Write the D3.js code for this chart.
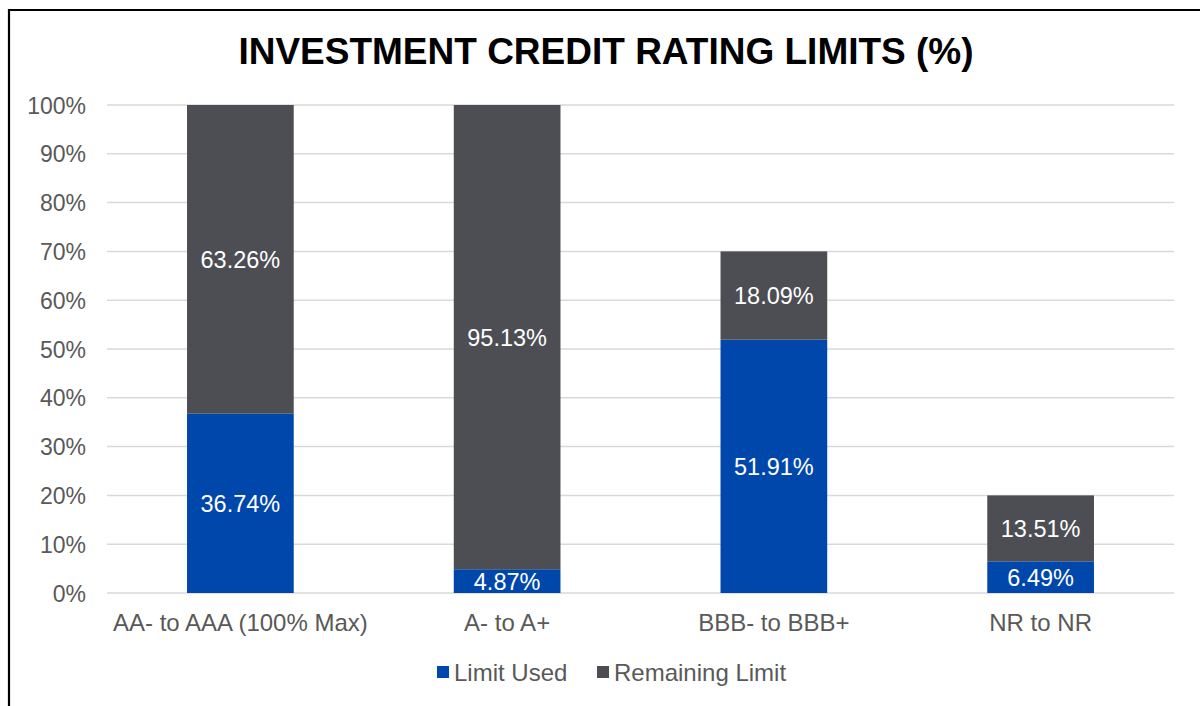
<!DOCTYPE html>
<html><head><meta charset="utf-8">
<script src="https://cdn.jsdelivr.net/npm/d3@7/dist/d3.min.js"></script>
<style>body{margin:0;background:#fff}svg{display:block}</style>
</head><body>
<svg id="c" width="1200" height="706"></svg>
<script>
const categories = ["AA- to AAA (100% Max)", "A- to A+", "BBB- to BBB+", "NR to NR"];
const limitUsed = [36.74, 4.87, 51.91, 6.49];
const remainingLimit = [63.26, 95.13, 18.09, 13.51];
const seriesNames = ["Limit Used", "Remaining Limit"];
const yTicks = [0, 10, 20, 30, 40, 50, 60, 70, 80, 90, 100];
const title = "INVESTMENT CREDIT RATING LIMITS (%)";

const colors = ["#0047AB", "#4D4E53"];
const svg = d3.select("#c");
const font = "'Liberation Sans', Arial, sans-serif";

// frame
svg.append("path").attr("d", "M9,706 V10 H1200").attr("fill", "none").attr("stroke", "#000").attr("stroke-width", 2.2);

const m = {l: 107, r: 1174, t: 105, b: 593};
const x = d3.scaleBand().domain(categories).range([m.l, m.r]).paddingInner(0.6).paddingOuter(0.3);
const y = d3.scaleLinear().domain([0, 100]).range([m.b, m.t]);

// title
svg.append("text").attr("x", 606).attr("y", 64).attr("text-anchor", "middle")
  .attr("font-family", font).attr("font-weight", "bold").attr("font-size", 37).attr("fill", "#000").text(title);

// grid
svg.append("g").selectAll("line").data(yTicks).join("line")
  .attr("x1", m.l).attr("x2", m.r).attr("y1", d => y(d)).attr("y2", d => y(d))
  .attr("stroke", "#D9D9D9").attr("stroke-width", 1.5);

// y axis labels
const yAxis = d3.axisLeft(y).tickValues(yTicks).tickFormat(d => d + "%").tickSize(0).tickPadding(0);
const ya = svg.append("g").attr("transform", `translate(86,0)`).call(yAxis);
ya.select(".domain").remove();
ya.selectAll("text").attr("font-family", font).attr("font-size", 23).attr("fill", "#595959").attr("dy", "0.35em");

// stacked data
const rows = categories.map((c, i) => ({cat: c, used: limitUsed[i], rem: remainingLimit[i]}));
const stack = d3.stack().keys(["used", "rem"])(rows);

stack.forEach((layer, li) => {
  const g = svg.append("g");
  g.selectAll("rect").data(layer).join("rect")
    .attr("x", d => x(d.data.cat)).attr("width", x.bandwidth())
    .attr("y", d => y(d[1])).attr("height", d => y(d[0]) - y(d[1]))
    .attr("fill", colors[li]);
  g.selectAll("text").data(layer).join("text")
    .attr("x", d => x(d.data.cat) + x.bandwidth() / 2)
    .attr("y", d => (y(d[0]) + y(d[1])) / 2)
    .attr("dy", "0.36em").attr("text-anchor", "middle")
    .attr("font-family", font).attr("font-size", 23.5).attr("fill", "#fff")
    .text(d => (d[1] - d[0]).toFixed(2) + "%");
});

// x axis labels
const xAxis = d3.axisBottom(x).tickSize(0).tickPadding(0);
const xa = svg.append("g").attr("transform", `translate(0,${m.b})`).call(xAxis);
xa.select(".domain").remove();
xa.selectAll("text").attr("font-family", font).attr("font-size", 24).attr("fill", "#595959").attr("dy", 0).attr("y", 38);

// legend
const legX = [437, 597];
const lg = svg.append("g");
seriesNames.forEach((n, i) => {
  lg.append("rect").attr("x", legX[i]).attr("y", 666).attr("width", 12).attr("height", 12).attr("fill", colors[i]);
  lg.append("text").attr("x", legX[i] + 17).attr("y", 681).attr("font-family", font).attr("font-size", 24).attr("fill", "#595959").text(n);
});
</script>
</body></html>
